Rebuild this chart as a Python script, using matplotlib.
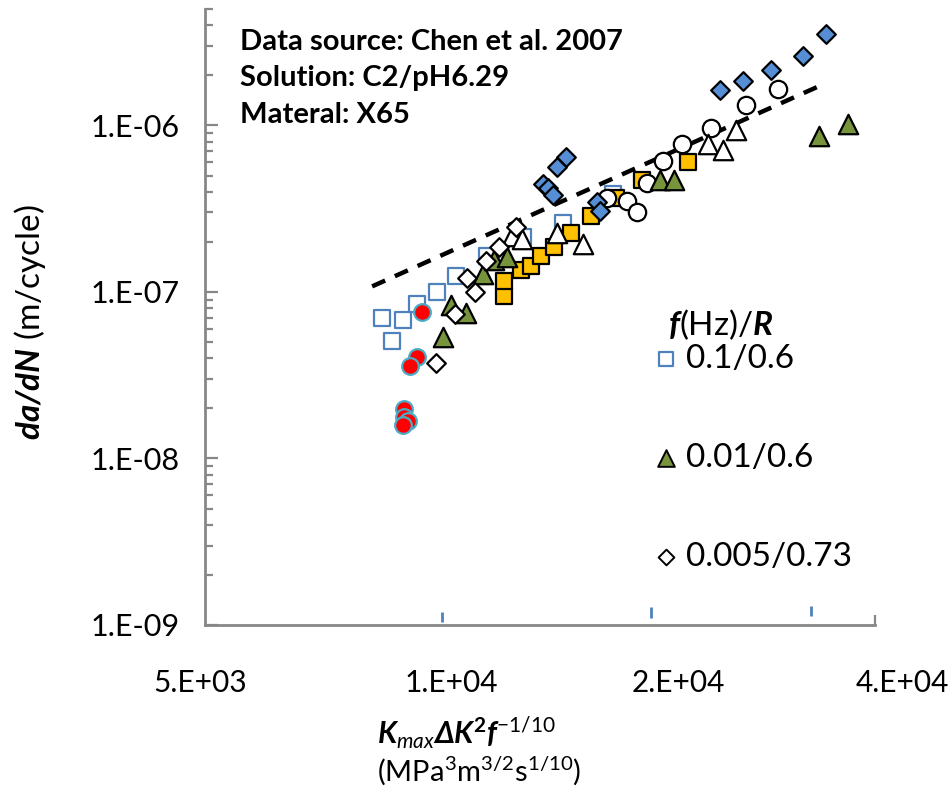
import matplotlib
matplotlib.use("Agg")
import matplotlib.pyplot as plt
from matplotlib.ticker import FixedLocator, NullFormatter
import matplotlib.transforms as mtransforms

plt.rcParams['font.family'] = 'Lato'
plt.rcParams['mathtext.fontset'] = 'custom'
plt.rcParams['mathtext.rm'] = 'Lato'
plt.rcParams['mathtext.it'] = 'Lato:italic'
plt.rcParams['mathtext.bf'] = 'Lato:bold'
plt.rcParams['mathtext.bfit'] = 'Lato:bold:italic'
plt.rcParams['mathtext.fallback'] = 'stixsans'

# f = 0.1 Hz, R = 0.6 (open blue squares)
sq_x = [8660, 8930, 9250, 9660, 10270, 10900, 12000, 13420, 15190, 17740]
sq_y = [6.95e-8, 5.06e-8, 6.76e-8, 8.43e-8, 9.95e-8, 1.24e-7, 1.64e-7, 2.13e-7, 2.58e-7, 3.90e-7]

# f = 0.01 Hz, R = 0.6 (green triangles)
tri_x = [10470, 10730, 11240, 11850, 12260, 12770, 20530, 21440, 33630, 36790]
tri_y = [5.35e-8, 8.31e-8, 7.44e-8, 1.28e-7, 1.55e-7, 1.61e-7, 4.67e-7, 4.67e-7, 8.69e-7, 1.026e-6]

# f = 0.005 Hz, R = 0.73 (open diamonds)
dia_x = [10240, 10860, 11280, 11560, 11960, 12450, 13130]
dia_y = [3.73e-8, 7.34e-8, 1.21e-7, 9.95e-8, 1.53e-7, 1.85e-7, 2.47e-7]

# other test conditions
ysq_x = [12650, 12650, 13330, 13750, 14190, 14770, 15570, 16570, 17910, 19410, 22390]
ysq_y = [9.42e-8, 1.17e-7, 1.35e-7, 1.44e-7, 1.64e-7, 1.85e-7, 2.26e-7, 2.84e-7, 3.64e-7, 4.73e-7, 5.99e-7]

bdia_x = [15330, 14910, 14280, 14500, 14730, 16880, 17040, 24730, 26560, 28970, 32000, 34370]
bdia_y = [6.50e-7, 5.59e-7, 4.42e-7, 4.18e-7, 3.80e-7, 3.45e-7, 3.08e-7, 1.64e-6, 1.86e-6, 2.16e-6, 2.62e-6, 3.56e-6]

circ_x = [17420, 18530, 19110, 19720, 20720, 21980, 24050, 26810, 29610]
circ_y = [3.69e-7, 3.54e-7, 3.00e-7, 4.54e-7, 6.15e-7, 7.78e-7, 9.59e-7, 1.33e-6, 1.66e-6]

otri_x = [12970, 13380, 14910, 16170, 23830, 24960, 25990]
otri_y = [2.16e-7, 2.07e-7, 2.26e-7, 1.93e-7, 7.78e-7, 7.16e-7, 9.44e-7]

red_x = [9810, 9660, 9450, 9270, 9270, 9390, 9250]
red_y = [7.55e-8, 4.05e-8, 3.58e-8, 1.98e-8, 1.77e-8, 1.67e-8, 1.58e-8]

# fitted trend line end points
fit_x = [8400, 33520]
fit_y = [1.08e-7, 1.71e-6]

x_ticks = [5e3, 1e4, 2e4, 4e4]
x_labels = ['5.E+03', '1.E+04', '2.E+04', '4.E+04']
x_label_shift = [-5, 23, 27, 27]   # px, labels sit right of their ticks
y_ticks = [1e-9, 1e-8, 1e-7, 1e-6]
y_labels = ['1.E-09', '1.E-08', '1.E-07', '1.E-06']

legend_labels = ['0.1/0.6', '0.01/0.6', '0.005/0.73']

# small blue marks above the x axis
mark_x = [10435, 19980, 32800]
mark_lo = [0.005, 0.011, 0.015]
mark_hi = [0.021, 0.029, 0.031]

gray = '#878787'

fig = plt.figure(figsize=(9.51, 7.88), dpi=100)
ax = fig.add_axes([205/951, 1-625/788, 670/951, 616/788])
ax.set_xscale('log', base=2)
ax.set_yscale('log')
ax.set_xlim(5e3, 4e4)
ax.set_ylim(1e-9, 5e-6)

ax.plot(fit_x, fit_y, color='black', lw=3.2, ls=(0, (3.2, 2.4)), zorder=2)

ax.scatter(sq_x, sq_y, marker='s', s=12**2, facecolor='white', edgecolor='#4f81bd', lw=1.6, zorder=3)
ax.scatter(ysq_x, ysq_y, marker='s', s=12**2, facecolor='#ffc000', edgecolor='black', lw=1.6, zorder=3)
ax.scatter(circ_x, circ_y, marker='o', s=12.5**2, facecolor='white', edgecolor='black', lw=1.6, zorder=4)
ax.scatter(tri_x, tri_y, marker='^', s=14**2, facecolor='#77933c', edgecolor='black', lw=1.6, zorder=4)
ax.scatter(otri_x, otri_y, marker='^', s=14**2, facecolor='white', edgecolor='black', lw=1.6, zorder=4)
ax.scatter(dia_x, dia_y, marker='D', s=9.5**2, facecolor='white', edgecolor='black', lw=1.6, zorder=5)
ax.scatter(bdia_x, bdia_y, marker='D', s=9.5**2, facecolor='#558ed5', edgecolor='black', lw=1.6, zorder=5)
ax.scatter(red_x, red_y, marker='o', s=12**2, facecolor='#ff0000', edgecolor='#4bacc6', lw=1.6, zorder=6)

trans = mtransforms.blended_transform_factory(ax.transData, ax.transAxes)
for mx, lo, hi in zip(mark_x, mark_lo, mark_hi):
    ax.plot([mx, mx], [lo, hi], color='#4f81bd', lw=2, transform=trans, solid_capstyle='butt')

for side in ['top', 'right']:
    ax.spines[side].set_visible(False)
for side in ['left', 'bottom']:
    ax.spines[side].set_color(gray)
    ax.spines[side].set_linewidth(2)

ax.yaxis.set_major_locator(FixedLocator(y_ticks))
ax.set_yticklabels(y_labels)
ax.yaxis.set_minor_locator(FixedLocator([m * 10.0**e for e in range(-9, -5) for m in range(2, 10)]))
ax.yaxis.set_minor_formatter(NullFormatter())
ax.tick_params(axis='y', which='major', direction='in', length=9, width=1.6, color=gray, pad=18, labelsize=22)
ax.tick_params(axis='y', which='minor', direction='in', length=6, width=1.6, color=gray)

ax.xaxis.set_major_locator(FixedLocator(x_ticks))
ax.set_xticklabels(x_labels)
ax.xaxis.set_minor_locator(FixedLocator([]))
ax.tick_params(axis='x', which='major', direction='in', length=7, width=1.6, color=gray, pad=32, labelsize=21.5)
xticks = ax.xaxis.get_major_ticks()
for i, t in enumerate(xticks):
    t.tick1line.set_visible(i == len(xticks) - 1)
for lab, dx in zip(ax.get_xticklabels(), x_label_shift):
    lab.set_transform(lab.get_transform() + mtransforms.ScaledTranslation(dx / 100, 0, fig.dpi_scale_trans))

# legend for the three main test conditions
h1 = ax.scatter([], [], marker='s', s=10**2, facecolor='white', edgecolor='#4f81bd', lw=1.6)
h2 = ax.scatter([], [], marker='^', s=12**2, facecolor='#77933c', edgecolor='black', lw=1.4)
h3 = ax.scatter([], [], marker='D', s=8**2, facecolor='white', edgecolor='black', lw=1.4)
ax.legend([h1, h2, h3], legend_labels,
          fontsize=24, frameon=False, labelspacing=2.07, handletextpad=0.2,
          handlelength=0.8, borderpad=0, borderaxespad=0, loc='center left',
          bbox_to_anchor=(653/951, 1-458/788), bbox_transform=fig.transFigure)
fig.text(668/951, 1-325/788, r'$\mathbfit{f}$(Hz)/$\mathbfit{R}$', fontsize=24, va='center')

fig.text(240/951, 1-42/788, 'Data source: Chen et al. 2007', fontsize=21, fontweight='bold', va='center')
fig.text(240/951, 1-78/788, 'Solution: C2/pH6.29', fontsize=21, fontweight='bold', va='center')
fig.text(240/951, 1-115/788, 'Materal: X65', fontsize=21, fontweight='bold', va='center')

fig.text(30/951, 1-322/788, r'$\mathbfit{da/dN}$ (m/cycle)', rotation=90, fontsize=24, ha='center', va='center')
fig.text(377/951, 1-733/788, r'$\mathbfit{K}_{\mathit{max}}\mathbfit{\Delta K}^{\mathbf{2}}\mathbfit{f}^{\mathrm{-1/10}}$',
         fontsize=21.5, ha='left', va='center')
fig.text(377/951, 1-781/788, r'(MPa$^{3}$m$^{3/2}$s$^{1/10}$)', fontsize=21, ha='left', va='baseline')

fig.savefig('out.png', dpi=100)
